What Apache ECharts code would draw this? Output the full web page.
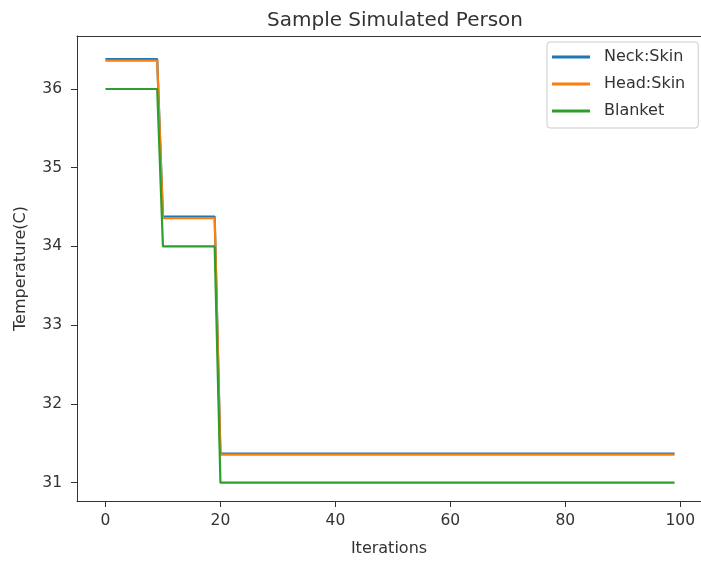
<!DOCTYPE html>
<html>
<head>
<meta charset="utf-8">
<script src="https://cdn.jsdelivr.net/npm/echarts@6/dist/echarts.min.js"></script>
<style>
  html, body { margin: 0; padding: 0; background: #fff; }
  #chart { width: 701px; height: 563px; }
</style>
</head>
<body>
<div id="chart"></div>
<script>
// step points (iteration where the level changes)
var iterations = [0, 9, 10, 19, 20, 99];
var neckSkin = [36.38, 36.38, 34.38, 34.38, 31.37, 31.37];
var headSkin = [36.36, 36.36, 34.36, 34.36, 31.355, 31.355];
var blanket = [36, 36, 34, 34, 31, 31];
var xTicks = [0, 20, 40, 60, 80, 100];
var yTicks = [31, 32, 33, 34, 35, 36];

function pairs(ys) {
    return iterations.map(function (x, i) { return [x, ys[i]]; });
}

var font = 'DejaVu Sans';
var axisColor = '#333';
// right spine falls just outside the picture, so cut the range at the edge
var xMin = -4.95, xMax = 103.6;

var chart = echarts.init(document.getElementById('chart'));
chart.setOption({
    animation: false,
    backgroundColor: '#fff',
    title: {
        text: 'Sample Simulated Person',
        left: 390,
        top: 6,
        textAlign: 'center',
        textStyle: { fontFamily: font, fontSize: 20, fontWeight: 'normal', color: '#333' }
    },
    legend: {
        orient: 'vertical',
        left: 547,
        top: 42,
        padding: [7, 13, 9, 5],
        itemGap: 11,
        itemWidth: 38,
        itemHeight: 3,
        icon: 'rect',
        backgroundColor: '#fff',
        borderColor: '#ccc',
        borderWidth: 1,
        borderRadius: 3,
        textStyle: { fontFamily: font, fontSize: 16, color: '#333', lineHeight: 16, padding: [0, 0, 0, 9] },
        data: ['Neck:Skin', 'Head:Skin', 'Blanket']
    },
    grid: {
        left: 77,
        right: 0,
        top: 36,
        bottom: 62,
        containLabel: false
    },
    xAxis: [
        {
            type: 'value',
            min: xMin,
            max: xMax,
            name: 'Iterations',
            nameLocation: 'middle',
            nameGap: 40,
            nameTextStyle: { fontFamily: font, fontSize: 16, color: '#333' },
            splitLine: { show: false },
            axisLine: { show: true, onZero: false, lineStyle: { color: axisColor } },
            axisTick: { show: true, length: 6, lineStyle: { color: axisColor }, customValues: xTicks },
            axisLabel: { fontFamily: font, fontSize: 15.5, color: '#333', margin: 12, customValues: xTicks }
        },
        {
            // top spine
            type: 'value',
            position: 'top',
            min: xMin,
            max: xMax,
            splitLine: { show: false },
            axisLine: { show: true, onZero: false, lineStyle: { color: axisColor } },
            axisTick: { show: false },
            axisLabel: { show: false }
        }
    ],
    yAxis: {
        type: 'value',
        min: 30.767,
        max: 36.673,
        name: 'Temperature(C)',
        nameLocation: 'middle',
        nameGap: 48,
        nameTextStyle: { fontFamily: font, fontSize: 16, color: '#333' },
        splitLine: { show: false },
        axisLine: { show: true, onZero: false, lineStyle: { color: axisColor } },
        axisTick: { show: true, length: 6, lineStyle: { color: axisColor }, customValues: yTicks },
        axisLabel: { fontFamily: font, fontSize: 15.5, color: '#333', margin: 15, customValues: yTicks }
    },
    series: [
        {
            name: 'Neck:Skin', type: 'line', data: pairs(neckSkin),
            showSymbol: false, color: '#1f77b4', lineStyle: { width: 2.2 }
        },
        {
            name: 'Head:Skin', type: 'line', data: pairs(headSkin),
            showSymbol: false, color: '#ff7f0e', lineStyle: { width: 2.2 }
        },
        {
            name: 'Blanket', type: 'line', data: pairs(blanket),
            showSymbol: false, color: '#2ca02c', lineStyle: { width: 2.2 }
        }
    ]
});
</script>
</body>
</html>
